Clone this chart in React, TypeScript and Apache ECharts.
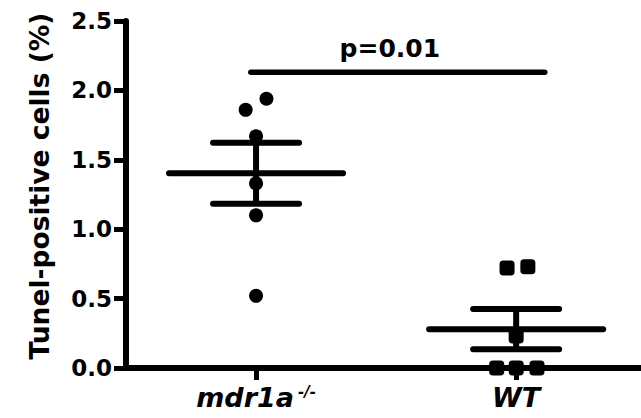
import React, { useEffect, useRef } from "react";
import * as echarts from "echarts";

// ---- data ----
const categories = ["mdr1a", "WT"];
const categoryPositions = [1, 2];
const mdr1aValues = [1.94, 1.86, 1.67, 1.33, 1.1, 0.52];
const mdr1aJitter = [0.04, -0.04, 0, 0, 0, 0];
const wtValues = [0.72, 0.73, 0.23, 0, 0, 0];
const wtJitter = [-0.035, 0.045, 0, -0.075, 0, 0.08];
const yTickValues = [0, 0.5, 1.0, 1.5, 2.0, 2.5];
const yAxisTitle = "Tunel-positive cells (%)";
const pValueLabel = "p=0.01";
const sigBarX = [0.98, 2.11];
const sigBarY = 2.13;

function mean(a: number[]) {
  return a.reduce((s, v) => s + v, 0) / a.length;
}
function sem(a: number[]) {
  const m = mean(a);
  const v = a.reduce((s, x) => s + (x - m) * (x - m), 0) / (a.length - 1);
  return Math.sqrt(v) / Math.sqrt(a.length);
}

const FONT = "DejaVu Sans";

export default function App() {
  const ref = useRef<HTMLDivElement>(null);
  useEffect(() => {
    if (!ref.current) return;
    const chart = echarts.init(ref.current, undefined, { renderer: "svg" });
    const groups = [mdr1aValues, wtValues];
    const summary = groups.map((g, i) => [categoryPositions[i], mean(g), sem(g)]);

    const option: any = {
      animation: false,
      backgroundColor: "#fff",
      grid: { left: 126, right: 0, top: 21, bottom: 50 },
      xAxis: {
        type: "value",
        min: 0.5,
        max: 2.48,
        splitLine: { show: false },
        axisLine: { lineStyle: { color: "#000", width: 6 } },
        axisTick: {
          show: true,
          customValues: categoryPositions,
          length: 12,
          lineStyle: { color: "#000", width: 5 },
        },
        axisLabel: {
          customValues: categoryPositions,
          margin: 16,
          formatter: (v: number) => {
            const i = categoryPositions.indexOf(Math.round(v));
            if (i === 0) return `{a|${categories[0]}}{s|-/-}`;
            if (i === 1) return `{a|${categories[1]}}`;
            return "";
          },
          rich: {
            a: {
              fontFamily: FONT,
              fontSize: 27,
              fontWeight: "bold",
              fontStyle: "italic",
              color: "#000",
            },
            s: {
              fontFamily: FONT,
              fontSize: 15,
              fontWeight: "bold",
              fontStyle: "italic",
              color: "#000",
              verticalAlign: "top",
              padding: [0, 0, 0, 4],
            },
          },
        },
      },
      yAxis: {
        type: "value",
        min: yTickValues[0],
        max: yTickValues[yTickValues.length - 1],
        interval: yTickValues[1] - yTickValues[0],
        splitLine: { show: false },
        axisLine: { show: true, lineStyle: { color: "#000", width: 6 } },
        axisTick: { show: true, length: 12, lineStyle: { color: "#000", width: 5 } },
        axisLabel: {
          margin: 14,
          color: "#000",
          fontFamily: FONT,
          fontWeight: "bold",
          fontSize: 23,
          formatter: (v: number) => v.toFixed(1),
        },
      },
      graphic: [
        {
          type: "text",
          x: 39,
          y: 186,
          rotation: Math.PI / 2,
          style: {
            text: yAxisTitle,
            fontFamily: FONT,
            fontWeight: "bold",
            fontSize: 26.5,
            fill: "#000",
            align: "center",
            verticalAlign: "middle",
          },
        },
      ],
      series: [
        {
          type: "scatter",
          symbol: "circle",
          symbolSize: 14,
          itemStyle: { color: "#000", opacity: 1 },
          data: mdr1aValues.map((v, i) => [categoryPositions[0] + mdr1aJitter[i], v]),
          clip: false,
          z: 3,
        },
        {
          type: "scatter",
          symbol: "roundRect",
          symbolSize: 15,
          itemStyle: { color: "#000", opacity: 1 },
          data: wtValues.map((v, i) => [categoryPositions[1] + wtJitter[i], v]),
          clip: false,
          z: 3,
        },
        {
          type: "custom",
          z: 4,
          data: summary,
          renderItem: (params: any, api: any) => {
            const x = api.value(0);
            const m = api.value(1);
            const e = api.value(2);
            const pm = api.coord([x, m]);
            const pu = api.coord([x, m + e]);
            const pl = api.coord([x, m - e]);
            const st = { stroke: "#000", lineWidth: 6, lineCap: "round" };
            const halfMean = 87;
            const halfCap = 43;
            return {
              type: "group",
              children: [
                { type: "line", shape: { x1: pm[0] - halfMean, y1: pm[1], x2: pm[0] + halfMean, y2: pm[1] }, style: st },
                { type: "line", shape: { x1: pu[0] - halfCap, y1: pu[1], x2: pu[0] + halfCap, y2: pu[1] }, style: st },
                { type: "line", shape: { x1: pl[0] - halfCap, y1: pl[1], x2: pl[0] + halfCap, y2: pl[1] }, style: st },
                { type: "line", shape: { x1: pu[0], y1: pu[1], x2: pl[0], y2: pl[1] }, style: { stroke: "#000", lineWidth: 6 } },
              ],
            };
          },
        },
        {
          type: "custom",
          z: 4,
          data: [[sigBarX[0], sigBarX[1], sigBarY]],
          renderItem: (params: any, api: any) => {
            const a = api.coord([api.value(0), api.value(2)]);
            const b = api.coord([api.value(1), api.value(2)]);
            return {
              type: "group",
              children: [
                { type: "line", shape: { x1: a[0], y1: a[1], x2: b[0], y2: b[1] }, style: { stroke: "#000", lineWidth: 5.5, lineCap: "round" } },
                {
                  type: "text",
                  x: (a[0] + b[0]) / 2 - 8,
                  y: a[1] - 11,
                  style: {
                    text: pValueLabel,
                    fontFamily: FONT,
                    fontWeight: "bold",
                    fontSize: 25,
                    fill: "#000",
                    align: "center",
                    verticalAlign: "bottom",
                  },
                },
              ],
            };
          },
        },
      ],
    };
    chart.setOption(option);
    return () => chart.dispose();
  }, []);
  return (
    <div
      ref={ref}
      style={{ position: "fixed", left: 0, top: 0, width: 641, height: 418, background: "#fff" }}
    />
  );
}
